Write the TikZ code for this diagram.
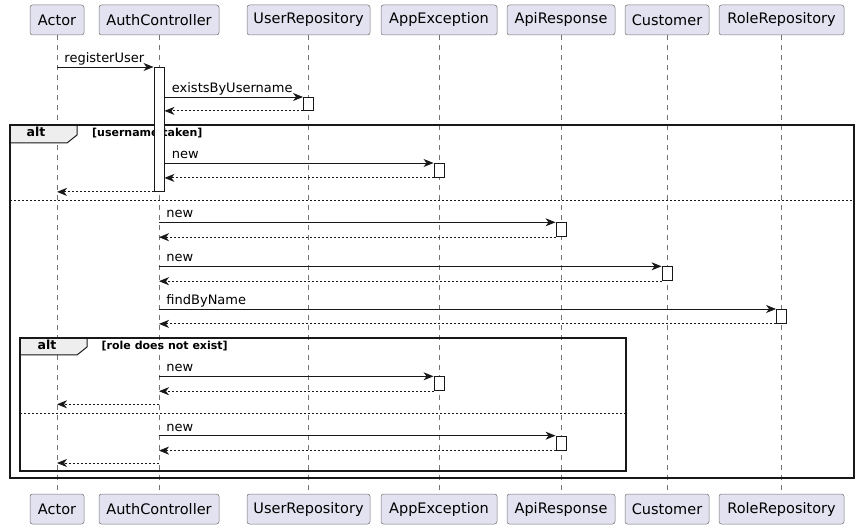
\documentclass[tikz,border=0pt]{standalone}
\usepackage{fontspec}
\setmainfont{DejaVu Sans}
\usetikzlibrary{arrows.meta,positioning}
\definecolor{partfill}{HTML}{E2E2F0}
\definecolor{partline}{HTML}{181818}
\definecolor{tabfill}{HTML}{EEEEEE}

\begin{document}
\begin{tikzpicture}[x=1pt, y=-1pt,
  participant/.style={draw=partline!60, line width=0.5pt, fill=partfill, rounded corners=2.5pt,
    minimum height=30pt, inner sep=0pt, font=\fontsize{14.5}{16}\selectfont},
  lifeline/.style={draw=partline!60, line width=0.6pt, dash pattern=on 5pt off 5pt},
  actbar/.style={draw=partline, fill=white, line width=0.9pt, minimum width=10pt, inner sep=0pt},
  msg/.style={draw=partline, line width=0.9pt, -{Stealth[length=10pt,width=8pt,inset=3pt]}},
  ret/.style={msg, dash pattern=on 2pt off 2pt},
  msglabel/.style={pos=0, anchor=base west, xshift=7pt, yshift=4.5pt, inner sep=0pt,
    font=\fontsize{13}{15}\selectfont},
  altframe/.style={draw=partline, line width=1.5pt},
  alttab/.style={fill=tabfill},
  altsep/.style={draw=partline, line width=0.9pt, dash pattern=on 2pt off 2pt},
  altname/.style={anchor=base, inner sep=0pt, font=\bfseries\fontsize{12.5}{14}\selectfont},
  altcond/.style={anchor=base west, inner sep=0pt, font=\bfseries\fontsize{11}{13}\selectfont}]
\useasboundingbox (0,0) rectangle (860,529);

% Participants and lifelines
\foreach \id/\x/\w/\txt in {act/57/54/Actor, ac/159/120/AuthController, ur/308.5/123/UserRepository,
    ae/439/116/AppException, ar/561/108/ApiResponse, cu/667/84/Customer, rr/781.5/125/RoleRepository} {
  \node[participant, minimum width=\w pt] (\id-top) at (\x,20) {\txt};
  \node[participant, minimum width=\w pt] (\id-bot) at (\x,509) {\txt};
  \draw[lifeline] (\id-top) -- (\id-bot);
}

% Outer alt frame
\fill[alttab] (10,125) -- (77,125) -- (77,135) -- (67,143) -- (10,143) -- cycle;
\draw[draw=partline, line width=1pt] (77,125) -- (77,135) -- (67,143) -- (10,143);
\draw[altframe] (10,125) rectangle (854,478);
\node[altname] (alt1) at (36,137) {alt};
\node[altcond] (cond1) at (92,137) {[username taken]};
\draw[altsep] (10,200) -- (854,200);

% Inner alt frame
\fill[alttab] (20,338) -- (87,338) -- (87,347) -- (77,355) -- (20,355) -- cycle;
\draw[draw=partline, line width=1pt] (87,338) -- (87,347) -- (77,355) -- (20,355);
\draw[altframe] (20,338) rectangle (626,471);
\node[altname] (alt2) at (47,350) {alt};
\node[altcond] (cond2) at (101.5,350) {[role does not exist]};
\draw[altsep] (20,413.3) -- (626,413.3);

% Activation bars
\node[actbar, minimum height=124pt, anchor=north] (ac1) at (ac-top |- 0,67) {};
\node[actbar, minimum height=13pt, anchor=north] (ur1) at (ur-top |- 0,97) {};
\node[actbar, minimum height=14pt, anchor=north] (ae1) at (ae-top |- 0,163) {};
\node[actbar, minimum height=14pt, anchor=north] (ar1) at (ar-top |- 0,222.3) {};
\node[actbar, minimum height=14pt, anchor=north] (cu1) at (cu-top |- 0,266.3) {};
\node[actbar, minimum height=14pt, anchor=north] (rr1) at (rr-top |- 0,309) {};
\node[actbar, minimum height=14pt, anchor=north] (ae2) at (ae-top |- 0,376.3) {};
\node[actbar, minimum height=14pt, anchor=north] (ar2) at (ar-top |- 0,435.7) {};
\coordinate (back1) at (ac-top |- 0,404.3);
\coordinate (back2) at (ac-top |- 0,463);

% First branch
\draw[msg] (act-top |- ac1.north) -- node[msglabel] {registerUser} (ac1.north west);
\draw[msg] (ac1.east |- ur1.north) -- node[msglabel] {existsByUsername} (ur1.north west);
\draw[ret] (ur1.south west) -- (ac1.east |- ur1.south);
\draw[msg] (ac1.east |- ae1.north) -- node[msglabel] {new} (ae1.north west);
\draw[ret] (ae1.south west) -- (ac1.east |- ae1.south);
\draw[ret] (ac1.south west) -- (act-top |- ac1.south);

% Second branch
\draw[msg] (ac-top |- ar1.north) -- node[msglabel] {new} (ar1.north west);
\draw[ret] (ar1.south west) -- (ac-top |- ar1.south);
\draw[msg] (ac-top |- cu1.north) -- node[msglabel] {new} (cu1.north west);
\draw[ret] (cu1.south west) -- (ac-top |- cu1.south);
\draw[msg] (ac-top |- rr1.north) -- node[msglabel] {findByName} (rr1.north west);
\draw[ret] (rr1.south west) -- (ac-top |- rr1.south);

% Nested alt
\draw[msg] (ac-top |- ae2.north) -- node[msglabel] {new} (ae2.north west);
\draw[ret] (ae2.south west) -- (ac-top |- ae2.south);
\draw[ret] (back1) -- (act-top |- back1);
\draw[msg] (ac-top |- ar2.north) -- node[msglabel] {new} (ar2.north west);
\draw[ret] (ar2.south west) -- (ac-top |- ar2.south);
\draw[ret] (back2) -- (act-top |- back2);
\end{tikzpicture}
\end{document}
